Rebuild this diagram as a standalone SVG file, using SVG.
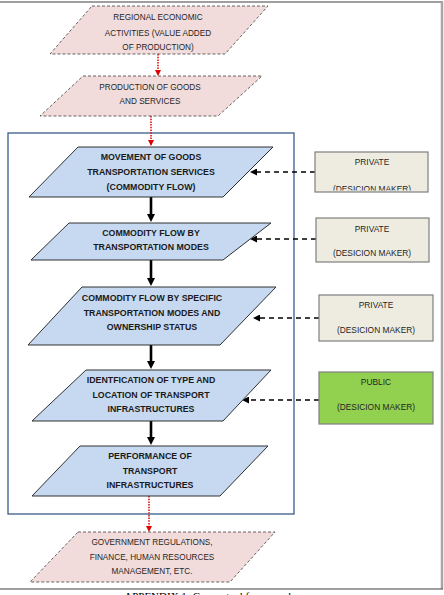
<svg xmlns="http://www.w3.org/2000/svg" width="444" height="595" viewBox="0 0 444 595">
<style>
.pink{fill:#F2DCDB;stroke:#404040;stroke-width:0.8;stroke-dasharray:3,2}
.blue{fill:#C6D9F1;stroke:#303030;stroke-width:1}
.box{fill:#EEECE1;stroke:#7F7F7F;stroke-width:1.2}
.green{fill:#92D050;stroke:#7F7F7F;stroke-width:1.2}
text{font-family:"Liberation Sans",Arial,sans-serif;text-anchor:middle;fill:#262626}
.t{font-size:8.2px}
.b{font-size:8.8px;font-weight:bold;fill:#1a1a1a}
.s{font-size:8.4px}
.red{stroke:#E00000;stroke-width:1.5;stroke-dasharray:1.5,1.2;fill:none}
.solid{stroke:#000;stroke-width:2.6;fill:none}
.dash{stroke:#000;stroke-width:1.4;stroke-dasharray:5,4;fill:none}
.frame{stroke:#404040;stroke-width:1.2}
</style>
<defs>
<marker id="mr" markerUnits="userSpaceOnUse" markerWidth="6" markerHeight="6" refX="5" refY="3" orient="auto"><path d="M0,0 L6,3 L0,6 z" fill="#E00000"/></marker>
<marker id="mb" markerUnits="userSpaceOnUse" markerWidth="8" markerHeight="8" refX="2" refY="4" orient="auto"><path d="M0,0 L8,4 L0,8 z" fill="#000"/></marker>
<marker id="md" markerUnits="userSpaceOnUse" markerWidth="7" markerHeight="7" refX="1" refY="3.5" orient="auto"><path d="M0,0 L7,3.5 L0,7 z" fill="#000"/></marker>
<clipPath id="c1"><rect x="315" y="152" width="113" height="38.6"/></clipPath>
</defs>
<rect width="444" height="595" fill="#fff"/>
<g id="page-frame">
<line class="frame" x1="0" y1="2" x2="443" y2="2"/>
<line x1="442" y1="2" x2="442" y2="589" stroke="#A6A6A6" stroke-width="2.5"/>
<line class="frame" x1="0" y1="589" x2="443" y2="589"/>
</g>
<g id="container"><rect x="8" y="133" width="286" height="381" fill="none" stroke="#385D8A" stroke-width="1.3"/></g>
<g id="connectors">
<line class="red" x1="158" y1="54" x2="158" y2="75" marker-end="url(#mr)"/>
<line class="red" x1="151" y1="116" x2="151" y2="145" marker-end="url(#mr)"/>
<line class="red" x1="149" y1="496" x2="149" y2="531" marker-end="url(#mr)"/>
<line class="solid" x1="151" y1="197" x2="151" y2="216" marker-end="url(#mb)"/>
<line class="solid" x1="151" y1="260" x2="151" y2="280" marker-end="url(#mb)"/>
<line class="solid" x1="151" y1="345" x2="151" y2="363" marker-end="url(#mb)"/>
<line class="solid" x1="151" y1="421" x2="151" y2="439" marker-end="url(#mb)"/>
<line class="dash" x1="315" y1="172" x2="256" y2="172" marker-end="url(#md)"/>
<line class="dash" x1="316" y1="239" x2="256" y2="239" marker-end="url(#md)"/>
<line class="dash" x1="319" y1="318" x2="259" y2="318" marker-end="url(#md)"/>
<line class="dash" x1="319" y1="400" x2="248" y2="400" marker-end="url(#md)"/>
</g>
<g id="n1"><polygon class="pink" points="92,6 268,6 225,54 50,54"/>
<text class="t" x="158" y="20">REGIONAL ECONOMIC</text><text class="t" x="158" y="36">ACTIVITIES (VALUE ADDED</text><text class="t" x="158" y="50">OF PRODUCTION)</text></g>
<g id="n2"><polygon class="pink" points="83,76 262,76 218,116 40,116"/>
<text class="t" x="150" y="90">PRODUCTION OF GOODS</text><text class="t" x="150" y="104">AND SERVICES</text></g>
<g id="n3"><polygon class="blue" points="78,147 273,147 223,197 29,197"/>
<text class="b" x="151" y="160">MOVEMENT OF GOODS</text><text class="b" x="151" y="175">TRANSPORTATION SERVICES</text><text class="b" x="151" y="190">(COMMODITY FLOW)</text></g>
<g id="n4"><polygon class="blue" points="69,223 271,223 223,260 31,260"/>
<text class="b" x="151" y="236">COMMODITY FLOW BY</text><text class="b" x="151" y="250">TRANSPORTATION MODES</text></g>
<g id="n5"><polygon class="blue" points="82,287 276,287 220,345 28,345"/>
<text class="b" x="152" y="301">COMMODITY FLOW BY SPECIFIC</text><text class="b" x="152" y="316">TRANSPORTATION MODES AND</text><text class="b" x="152" y="330">OWNERSHIP STATUS</text></g>
<g id="n6"><polygon class="blue" points="86,370 271,370 223,421 32,421"/>
<text class="b" x="151" y="383">IDENTFICATION OF  TYPE AND</text><text class="b" x="151" y="398">LOCATION OF TRANSPORT</text><text class="b" x="151" y="412">INFRASTRUCTURES</text></g>
<g id="n7"><polygon class="blue" points="80,446 268,446 220,496 32,496"/>
<text class="b" x="150" y="459">PERFORMANCE OF</text><text class="b" x="150" y="474">TRANSPORT</text><text class="b" x="150" y="488">INFRASTRUCTURES</text></g>
<g id="n8"><polygon class="pink" points="78,532 275,532 230,582 30,582"/>
<text class="t" x="152" y="545">GOVERNMENT REGULATIONS,</text><text class="t" x="152" y="560">FINANCE, HUMAN RESOURCES</text><text class="t" x="152" y="574">MANAGEMENT, ETC.</text></g>
<g id="b1"><rect class="box" x="315" y="152" width="113" height="40"/>
<text class="s" x="372" y="165">PRIVATE</text><text class="s" x="372" y="191.5" clip-path="url(#c1)">(DESICION MAKER)</text></g>
<g id="b2"><rect class="box" x="316" y="218" width="113" height="44"/>
<text class="s" x="372" y="232">PRIVATE</text><text class="s" x="372" y="256">(DESICION MAKER)</text></g>
<g id="b3"><rect class="box" x="319" y="295" width="114" height="46"/>
<text class="s" x="376" y="308">PRIVATE</text><text class="s" x="376" y="333">(DESICION MAKER)</text></g>
<g id="b4"><rect class="green" x="319" y="372" width="114" height="52"/>
<text class="s" x="376" y="385">PUBLIC</text><text class="s" x="376" y="410">(DESICION MAKER)</text></g>
<text x="209" y="600" style="font-family:'Liberation Serif','Times New Roman',serif;font-size:11px;fill:#000">APPENDIX 1: Conceptual framework</text>
</svg>
